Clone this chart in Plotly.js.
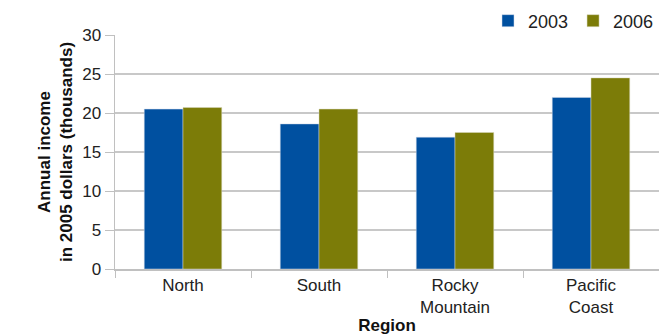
<!DOCTYPE html>
<html><head><meta charset="utf-8">
<script src="https://cdn.plot.ly/plotly-3.0.1.min.js"></script>
<style>html,body{margin:0;padding:0;background:#fff}#chart{width:659px;height:335px}</style>
</head><body><div id="chart"></div>
<script>
var regions = ["North", "South", "Rocky<br>Mountain", "Pacific<br>Coast"];
var income2003 = [20.5, 18.6, 16.9, 22.0];
var income2006 = [20.7, 20.5, 17.5, 24.5];
var seriesNames = ["2003", "2006"];
var yTicks = [0, 5, 10, 15, 20, 25, 30];

var font = "Liberation Sans, Arial, sans-serif";
var traces = [
  {type: "bar", name: seriesNames[0], x: regions, y: income2003,
   marker: {color: "#0050a0", line: {color: "#d0d8e8", width: 0.5}}},
  {type: "bar", name: seriesNames[1], x: regions, y: income2006,
   marker: {color: "#7c7c08", line: {color: "#d8d8c0", width: 0.5}}}
];
var layout = {
  width: 659, height: 335,
  margin: {l: 115, r: 0, t: 35, b: 66},
  paper_bgcolor: "#fff", plot_bgcolor: "#fff",
  font: {family: font, size: 17, color: "#222"},
  barmode: "group", bargap: 0.43, bargroupgap: 0,
  showlegend: true,
  legend: {orientation: "h", x: 1, xanchor: "right", y: 1.06, yanchor: "middle",
           font: {size: 18, color: "#222"}, itemwidth: 30, tracegroupgap: 0},
  xaxis: {showline: true, linecolor: "#c0c0c0", linewidth: 1.5,
          ticks: "outside", tickson: "boundaries", ticklen: 7, tickcolor: "#c0c0c0",
          tickfont: {size: 17, color: "#222"},
          title: {text: "<b>Region</b>", font: {size: 17, color: "#111"}, standoff: 4},
          automargin: false},
  yaxis: {range: [0, 30], tickvals: yTicks, showgrid: true, gridcolor: "#c8c8c8", gridwidth: 1.5,
          showline: true, linecolor: "#c0c0c0", linewidth: 1.5, zeroline: false,
          ticks: "outside", ticklen: 9, tickcolor: "#c0c0c0",
          tickfont: {size: 17, color: "#222"},
          title: {text: "<b>Annual income<br>in 2005 dollars (thousands)</b>", font: {size: 17, color: "#111"}, standoff: 5},
          automargin: false}
};
Plotly.newPlot("chart", traces, layout, {displayModeBar: false, staticPlot: true});
</script></body></html>
